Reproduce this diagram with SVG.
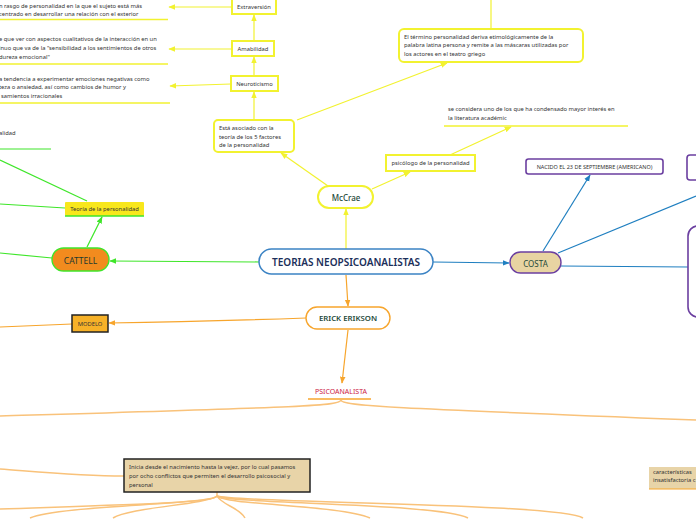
<svg xmlns="http://www.w3.org/2000/svg" width="696" height="520" viewBox="0 0 696 520">
<defs>
<style>
.t{font-family:"Noto Sans","Open Sans","Liberation Sans",sans-serif;fill:#333;font-size:5.8px}
.lbl{font-family:"Noto Sans","Open Sans","Liberation Sans",sans-serif;text-anchor:middle;dominant-baseline:central}
.y{stroke:#f2f230;fill:none;stroke-width:1.2}
.g{stroke:#3fe62a;fill:none;stroke-width:1.2}
.o{stroke:#f7a52c;fill:none;stroke-width:1.2}
.b{stroke:#1f7fc0;fill:none;stroke-width:1.2}
.br{stroke:#f9c27a;fill:none;stroke-width:1.5}
.yn{fill:#fff;stroke:#f2f230;stroke-width:2}
.pn{fill:#fff;stroke:#6b3fa0;stroke-width:1.6}
</style>
<marker id="ay" viewBox="0 0 10 10" refX="9" refY="5" markerWidth="7" markerHeight="7" markerUnits="userSpaceOnUse" orient="auto"><path d="M0,1L10,5L0,9z" fill="#f2f230"/></marker>
<marker id="ag" viewBox="0 0 10 10" refX="9" refY="5" markerWidth="7" markerHeight="7" markerUnits="userSpaceOnUse" orient="auto"><path d="M0,1L10,5L0,9z" fill="#3fe62a"/></marker>
<marker id="ao" viewBox="0 0 10 10" refX="9" refY="5" markerWidth="7" markerHeight="7" markerUnits="userSpaceOnUse" orient="auto"><path d="M0,1L10,5L0,9z" fill="#f7a52c"/></marker>
<marker id="ab" viewBox="0 0 10 10" refX="9" refY="5" markerWidth="7" markerHeight="7" markerUnits="userSpaceOnUse" orient="auto"><path d="M0,1L10,5L0,9z" fill="#1f7fc0"/></marker>
</defs>
<rect width="696" height="520" fill="#fff"/>

<g id="connectors">
<line class="y" x1="346" y1="249" x2="346" y2="209" marker-end="url(#ay)"/>
<line class="y" x1="328" y1="186" x2="281" y2="153" marker-end="url(#ay)"/>
<line class="y" x1="372" y1="189" x2="410" y2="172" marker-end="url(#ay)"/>
<line class="y" x1="450" y1="155" x2="511" y2="127" marker-end="url(#ay)"/>
<line class="y" x1="297" y1="120" x2="447" y2="63" marker-end="url(#ay)"/>
<line class="y" x1="491" y1="0" x2="491" y2="29"/>
<line class="y" x1="254" y1="120" x2="254" y2="92" marker-end="url(#ay)"/>
<line class="y" x1="254" y1="76" x2="254" y2="57" marker-end="url(#ay)"/>
<line class="y" x1="254" y1="41" x2="254" y2="15" marker-end="url(#ay)"/>
<line class="y" x1="232" y1="7" x2="169" y2="7" marker-end="url(#ay)"/>
<line class="y" x1="232" y1="49" x2="169" y2="49" marker-end="url(#ay)"/>
<line class="y" x1="231" y1="84" x2="170" y2="86" marker-end="url(#ay)"/>
<line class="g" x1="259" y1="262" x2="110" y2="261" marker-end="url(#ag)"/>
<line class="g" x1="87" y1="247" x2="102" y2="217" marker-end="url(#ag)"/>
<line class="g" x1="65" y1="208" x2="0" y2="204"/>
<line class="g" x1="87" y1="201" x2="0" y2="160"/>
<line class="g" x1="52" y1="258" x2="0" y2="253"/>
<line class="o" x1="346" y1="275" x2="348" y2="306" marker-end="url(#ao)"/>
<line class="o" x1="348" y1="330" x2="342" y2="383" marker-end="url(#ao)"/>
<path class="o" d="M306,318 C250,320 180,322 109,323" marker-end="url(#ao)"/>
<line class="o" x1="72" y1="324" x2="0" y2="327"/>
<line class="b" x1="433" y1="262" x2="509" y2="263" marker-end="url(#ab)"/>
<line class="b" x1="543" y1="251" x2="590" y2="175" marker-end="url(#ab)"/>
<line class="b" x1="558" y1="253" x2="696" y2="196"/>
<line class="b" x1="561" y1="266" x2="688" y2="267"/>
<path class="br" d="M341,400 C341,406 300,407 0,416"/>
<path class="br" d="M341,400 C341,406 390,408 696,420"/>
<path class="br" d="M0,469 C40,472 80,476 124,476"/>
<path class="br" d="M217,492 L217,497"/>
<path class="br" d="M217,496 C217,503 120,505 0,509"/>
<path class="br" d="M217,496 C210,505 60,505 30,518"/>
<path class="br" d="M217,496 C205,505 130,507 113,518"/>
<path class="br" d="M217,496 C222,505 240,508 245,518"/>
<path class="br" d="M217,496 C225,505 340,505 370,518"/>
<path class="br" d="M217,496 C230,504 440,503 468,518"/>
<path class="br" d="M217,496 C235,503 560,503 583,518"/>
</g>

<g id="central">
<rect x="259" y="249" width="174" height="25" rx="12.5" fill="#fff" stroke="#3b83c4" stroke-width="1.5"/>
<text class="lbl" x="346" y="262" font-size="10" font-weight="600" fill="#1b2f5a">TEORIAS NEOPSICOANALISTAS</text>
</g>

<g id="mccrae">
<rect x="318" y="186" width="55" height="22" rx="11" class="yn"/>
<text class="lbl" x="346" y="197" font-size="8" font-weight="500" fill="#1e4a3a">McCrae</text>
</g>

<g id="erikson">
<rect x="306" y="307" width="84" height="22" rx="11" fill="#fff" stroke="#f7a52c" stroke-width="1.4"/>
<text class="lbl" x="348" y="318" font-size="7.8" font-weight="600" fill="#1e4a3a">ERICK ERIKSON</text>
</g>

<g id="psicoanalista">
<text class="lbl" x="341" y="391" font-size="7" fill="#cc2244">PSICOANALISTA</text>
<line x1="308" y1="399" x2="371" y2="399" stroke="#f7a52c" stroke-width="1.5"/>
</g>

<g id="inicia">
<rect x="124" y="459" width="186" height="33" fill="#e8d4a8" stroke="#222" stroke-width="1.5"/>
<text class="t" x="129" y="469">Inicia  desde el nacimiento hasta la vejez, por lo cual  pasamos</text>
<text class="t" x="129" y="478">por ocho conflictos que permiten el desarrollo psicosocial y</text>
<text class="t" x="129" y="487">personal</text>
</g>

<g id="caracteristicas">
<rect x="649" y="467" width="50" height="22" fill="#e8d4a8"/>
<line x1="649" y1="489" x2="696" y2="489" stroke="#f7a52c" stroke-width="1.2"/>
<text class="t" x="653" y="474">características</text>
<text class="t" x="653" y="482">insatisfactoria c</text>
</g>

<g id="cattell">
<rect x="52" y="248" width="57" height="23" rx="11.5" fill="#f28b1e" stroke="#3fe62a" stroke-width="1.4"/>
<text class="lbl" x="80.5" y="260" font-size="8.5" fill="#1e3a2e">CATTELL</text>
</g>

<g id="teoria">
<rect x="65" y="202" width="79" height="14" rx="1" fill="#f8e71c"/>
<line x1="65" y1="216" x2="144" y2="216" stroke="#3fe62a" stroke-width="1.4"/>
<text class="lbl" x="104.5" y="209" font-size="5.8" fill="#333">Teoría de la personalidad</text>
</g>

<g id="alidad">
<text class="t" x="-1" y="135">alidad</text>
<line x1="0" y1="149" x2="51" y2="149" stroke="#3fe62a" stroke-width="1.2"/>
</g>

<g id="modelo">
<rect x="72" y="315" width="36" height="17" fill="#f6b128" stroke="#222" stroke-width="1.5"/>
<text class="lbl" x="90" y="323.5" font-size="5.8" fill="#333">MODELO</text>
</g>

<g id="costa">
<rect x="510" y="252" width="51" height="21" rx="10.5" fill="#e8d4a2" stroke="#6b3fa0" stroke-width="1.4"/>
<text class="lbl" x="535.5" y="263" font-size="8" fill="#1e4a3a">COSTA</text>
</g>

<g id="nacido">
<rect x="526" y="159" width="137" height="15" rx="2.5" class="pn"/>
<text class="lbl" x="594.5" y="166.5" font-size="5.5" fill="#333">NACIDO EL 23 DE SEPTIEMBRE (AMERICANO)</text>
</g>

<g id="purple-top-right">
<rect x="687" y="155" width="20" height="25" rx="3" class="pn"/>
</g>

<g id="purple-big-right">
<rect x="688" y="226" width="30" height="91" rx="10" class="pn"/>
</g>

<g id="extraversion">
<rect x="232" y="-4" width="44" height="18" class="yn"/>
<text class="lbl" x="254" y="7" font-size="5.8" fill="#333">Extraversión</text>
</g>
<g id="extraversion-text">
<text class="t" x="-1" y="8">n rasgo de personalidad en la que el sujeto está más</text>
<text class="t" x="-1" y="16">centrado en desarrollar una relación con el exterior</text>
<line x1="0" y1="19.5" x2="168" y2="19.5" stroke="#f2f230" stroke-width="1.4"/>
</g>

<g id="amabilidad">
<rect x="232" y="41" width="42" height="15" class="yn"/>
<text class="lbl" x="253" y="48.5" font-size="5.8" fill="#333">Amabilidad</text>
</g>
<g id="amabilidad-text">
<text class="t" x="-1" y="41">e que ver con aspectos cualitativos de la interacción en un</text>
<text class="t" x="-1" y="50">inuo que va de la "sensibilidad a los sentimientos de otros</text>
<text class="t" x="-1" y="59">dureza emocional"</text>
<line x1="0" y1="64" x2="168" y2="64" stroke="#f2f230" stroke-width="1.4"/>
</g>

<g id="neuroticismo">
<rect x="231" y="76" width="47" height="15" class="yn"/>
<text class="lbl" x="254.5" y="83.5" font-size="5.8" fill="#333">Neuroticismo</text>
</g>
<g id="neuroticismo-text">
<text class="t" x="-1" y="81">a tendencia a experimentar emociones negativas como</text>
<text class="t" x="-1" y="89">teza o ansiedad, así como cambios de humor y</text>
<text class="t" x="1" y="98">samientos irracionales</text>
<line x1="0" y1="103" x2="170" y2="103" stroke="#f2f230" stroke-width="1.4"/>
</g>

<g id="asociado">
<rect x="214" y="120" width="80" height="32" rx="4" class="yn"/>
<text class="t" x="219" y="130">Está asociado con la</text>
<text class="t" x="219" y="139">teoría de los 5 factores</text>
<text class="t" x="219" y="147">de la personalidad</text>
</g>

<g id="termino">
<rect x="399" y="29" width="184" height="33" rx="5" class="yn"/>
<text class="t" x="404" y="39">El término personalidad deriva etimológicamente de la</text>
<text class="t" x="404" y="47">palabra latina persona y remite a las máscaras utilizadas por</text>
<text class="t" x="404" y="56">los actores en el teatro griego</text>
</g>

<g id="psicologo">
<rect x="386" y="155" width="89" height="16" class="yn"/>
<text class="lbl" x="430.5" y="163" font-size="5.8" fill="#333">psicólogo de la personalidad</text>
</g>

<g id="considera">
<text class="t" x="448" y="111">se considera uno de los que ha condensado mayor interés en</text>
<text class="t" x="448" y="120">la literatura académic</text>
<line x1="444" y1="126" x2="628" y2="126" stroke="#f2f230" stroke-width="1.4"/>
</g>
</svg>
